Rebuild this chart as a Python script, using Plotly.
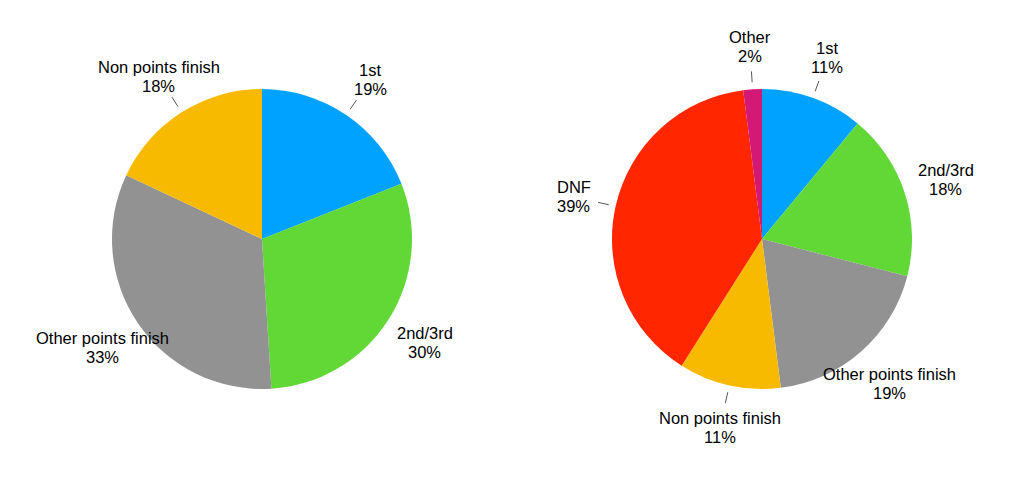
import math
import plotly.graph_objects as go

# ---- data ----
left_labels = ["1st", "2nd/3rd", "Other points finish", "Non points finish"]
left_values = [19, 30, 33, 18]
left_colors = ["#00A2FF", "#61D836", "#929292", "#F8BA00"]
left_leader = [True, False, False, True]

right_labels = ["1st", "2nd/3rd", "Other points finish", "Non points finish", "DNF", "Other"]
right_values = [11, 18, 19, 11, 39, 2]
right_colors = ["#00A2FF", "#61D836", "#929292", "#F8BA00", "#FF2600", "#D31876"]
right_leader = [True, False, False, True, True, True]

PAGE_OFF = 8  # default body margin of the html page
W, H = 1024 - PAGE_OFF, 482 - PAGE_OFF
R = 150
centers = [(262 - PAGE_OFF, 239 - PAGE_OFF), (762 - PAGE_OFF, 239 - PAGE_OFF)]
LABEL_R = 193
LINE_R0, LINE_R1 = 157, 168
LINE_GAP = 9.5
FONT = dict(family="Liberation Sans, Arial, sans-serif", size=16.5, color="#000000")

fig = go.Figure()
annotations = []
shapes = []

for (cx, cy), labels, values, colors, leader in [
    (centers[0], left_labels, left_values, left_colors, left_leader),
    (centers[1], right_labels, right_values, right_colors, right_leader),
]:
    fig.add_trace(go.Pie(
        labels=labels, values=values, sort=False, direction="clockwise", rotation=0,
        marker=dict(colors=colors, line=dict(width=0)),
        textinfo="none", hoverinfo="label+percent", showlegend=False,
        domain=dict(x=[(cx - R) / W, (cx + R) / W], y=[1 - (cy + R) / H, 1 - (cy - R) / H]),
    ))
    total = sum(values)
    cum = 0
    for lab, v, ld in zip(labels, values, leader):
        mid = (cum + v / 2) / total * 2 * math.pi
        cum += v
        s, c = math.sin(mid), math.cos(mid)
        pct = round(v / total * 100)
        tx = cx + LABEL_R * s
        ty = cy - LABEL_R * c
        for txt, dy in [(lab, -LINE_GAP), (f"{pct}%", LINE_GAP)]:
            annotations.append(dict(
                x=tx / W, y=1 - (ty + dy) / H,
                xref="paper", yref="paper", xanchor="center", yanchor="middle",
                text=txt, showarrow=False, font=FONT,
            ))
        if ld:
            shapes.append(dict(
                type="line", xref="paper", yref="paper",
                x0=(cx + LINE_R0 * s) / W, y0=1 - (cy - LINE_R0 * c) / H,
                x1=(cx + LINE_R1 * s) / W, y1=1 - (cy - LINE_R1 * c) / H,
                line=dict(color="#555555", width=1),
            ))

fig.update_layout(
    width=W, height=H, margin=dict(l=0, r=0, t=0, b=0),
    paper_bgcolor="white", plot_bgcolor="white",
    annotations=annotations, shapes=shapes,
)
fig.write_html("out.html")
